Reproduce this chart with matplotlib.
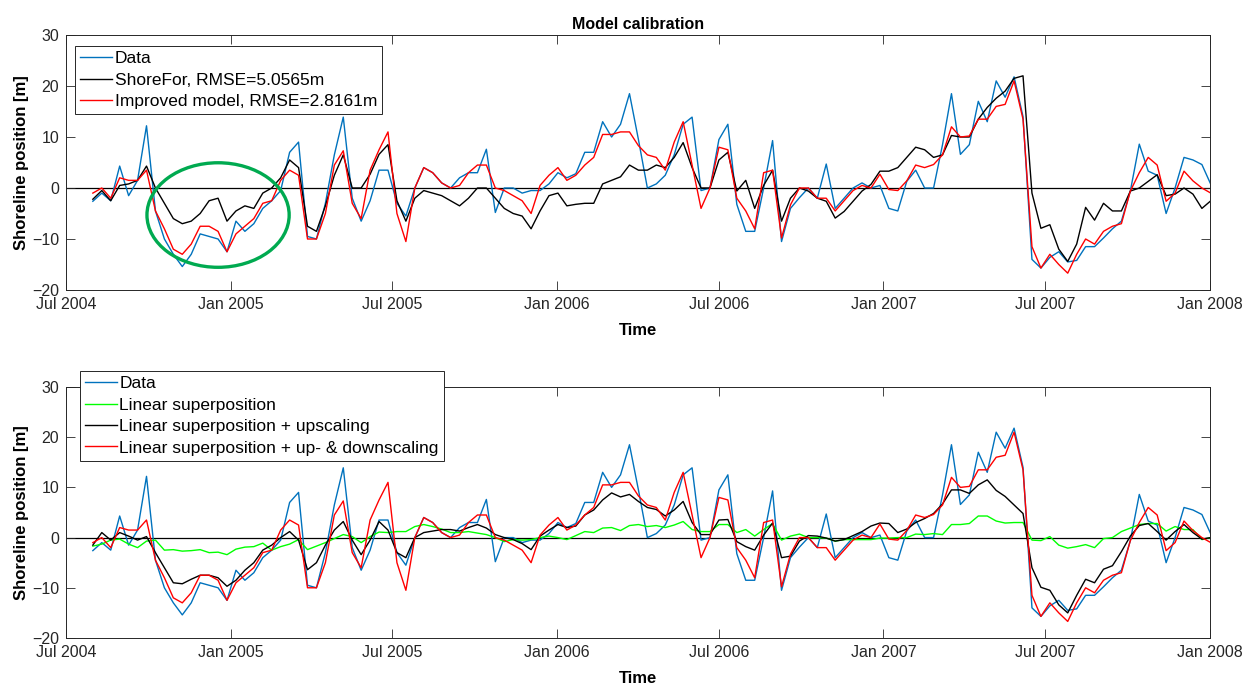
import numpy as np
import pandas as pd
import matplotlib
matplotlib.use("Agg")
import matplotlib.pyplot as plt
import matplotlib.dates as mdates
from matplotlib.patches import Ellipse

plt.rcParams['font.family'] = ['Liberation Sans', 'DejaVu Sans']

# shoreline positions [m], one sample every 10 days from 31 Jul 2004
series_start = '2004-07-31'
series_step = '10D'

data = [-2.6, -1, -2.5, 4.3, -1.5, 1.5, 12.2, -4.5, -10, -13, -15.4, -13, -9, -9.5, -10, -12.5,
        -6.5, -8.5, -7, -4, -2.5, -0.5, 7, 9, -9.5, -10, -3, 6.5, 13.9, -2, -6.5, -2.5,
        3.5, 3.5, -3, -5.5, 0, 4, 3, 1, 0, 2, 3, 3, 7.6, -4.8, 0, 0,
        -1, -0.5, -0.5, 0.8, 3, 2, 2.8, 7, 7, 13, 10, 12.5, 18.5, 9.5, 0, 0.8,
        2.5, 6.5, 12.5, 13.9, -0.5, 0, 9.5, 12.5, -3.2, -8.5, -8.5, 0, 9.3, -10.5, -4, -1.9,
        0, -2, 4.7, -4, -2, 0, 1, 0, 0.5, -4, -4.5, 1.3, 3.5, 0, 0, 8.5,
        18.5, 6.6, 8.5, 17, 13, 21, 17.8, 21.8, 14, -14, -15.7, -13.6, -12.5, -14.5, -14.2, -11.5,
        -11.5, -9.8, -8, -6.5, -0.6, 8.6, 3.3, 2.5, -5, 0, 6, 5.5, 4.6, 0.7]

shorefor = [-2.2, -0.5, -2.5, 0.5, 0.8, 1.5, 4.3, 0, -3, -6, -7, -6.5, -5, -2.5, -2, -6.5,
            -4.5, -3.5, -4, -1, 0, 2, 5.5, 4, -7.5, -8.5, -3.5, 2.5, 6.5, 0, 0, 2.7,
            6.6, 8.5, -2.5, -6.5, -2, -0.5, -1, -1.5, -2.5, -3.5, -2, 0, 0, -2, -4, -5,
            -5.5, -8, -4.5, -1.5, -1, -3.5, -3.2, -3, -3, 0.8, 1.5, 2.2, 4.5, 3.5, 3.5, 4.5,
            4, 6, 8.9, 4, 0, 0, 5.5, 7, -0.6, 1.5, -4, 0.5, 3.5, -6.5, -2, 0,
            -0.6, -2, -2.6, -5.9, -4.6, -2.6, -0.6, 0.7, 3.3, 3.3, 4, 6, 8, 7.5, 6, 6.5,
            10.3, 10, 10, 13.5, 15.8, 17.6, 19, 21.5, 22, -1, -7.9, -7.2, -12, -14.4, -11, -3.8,
            -6.3, -3, -4.5, -4.5, -0.6, 0, 1.3, 2.6, -1.5, -1.2, 0, -1.2, -4, -2.5]

improved = [-1, 0, -2, 2, 1.5, 1.5, 3.5, -4.5, -8, -12, -13, -11, -7.5, -7.5, -8.5, -12.5,
            -9, -7.5, -6, -3, -2.5, 1.5, 3.5, 2.5, -10, -10, -5, 4.5, 7.3, -3, -6, 3.5,
            7.5, 11, -5, -10.5, 0, 4, 3, 1, 0, 0.5, 3, 4.5, 4.5, 0, -0.5, -1.5,
            -2.5, -5, 0.5, 2.5, 4, 1.5, 2.5, 4.5, 6, 10.5, 10.5, 11, 11, 8.3, 6.5, 6,
            3.5, 9, 13, 4.5, -4, 0, 8, 7.5, -2, -4.5, -8, 3, 3.5, -9.8, -3.3, 0,
            0, -2, -2, -4.5, -2.5, -0.5, 0.5, 0, 2.7, -0.3, -0.5, 1.4, 4.5, 4, 4.6, 6.5,
            12, 10, 10.2, 13.5, 13.5, 16, 16.4, 21, 13.5, -11.5, -15.7, -13, -15, -16.7, -13, -10,
            -11, -8.5, -7.5, -7, -0.6, 3, 6, 4.5, -2.6, -1, 3.3, 1.4, 0, -1]

linear = [-1.7, -1.3, -0.5, -0.3, -1.3, -2, -0.7, -0.5, -2.5, -2.4, -2.7, -2.6, -2.4, -3, -2.9, -3.4,
          -2.3, -1.9, -1.8, -1.1, -2.5, -1.8, -1.3, -0.4, -2.4, -1.7, -1, -0.2, 0.6, 0.2, -1, 0.2,
          1.1, 1, 1.2, 1.2, 2.2, 2.6, 2.2, 1.7, 1, 1, 1.2, 0.9, 0.6, 0, -0.8, -0.4,
          -0.5, -0.4, 0, 0.3, 0, -0.4, 0.4, 1.2, 1, 1.9, 2, 1.4, 2.4, 2.6, 2.2, 2.4,
          2, 2.5, 3.2, 1.6, 1.2, 1.2, 2.6, 2.6, 1, 1.6, 0.3, 1.6, 2.8, -0.5, 0.3, 0.7,
          0, 0, -0.1, -0.7, -0.4, -0.4, -0.4, -0.4, -0.1, -0.1, 0, 0, 0.7, 0.6, 0.8, 0.6,
          2.6, 2.6, 2.8, 4.3, 4.3, 3.3, 2.9, 3, 3, -0.5, -0.6, 0.2, -1.5, -2.1, -1.8, -1.4,
          -2, -0.2, 0, 1.2, 1.9, 2.6, 2.8, 2.8, 1.3, 2.2, 1.6, 1.6, -0.4, 0]

upscaled = [-1.5, 1, -0.5, 1, 0.3, -0.5, 0.2, -3, -6, -9, -9.2, -8.3, -7.5, -7.5, -8, -9.7,
            -8.5, -6.5, -5, -2.5, -1.5, 0, 1.2, -0.5, -6.4, -5, -1.5, 1.5, 3.2, -0.5, -3.4, -0.5,
            3.2, 1.5, -3, -4, 0, 1, 1.3, 1.6, 1.6, 1.3, 2, 2.6, 1.9, 0.6, 0, -0.4,
            -1.2, -2.4, 0.3, 1.5, 2.6, 2, 2.3, 4.5, 5.5, 7.5, 8.9, 8.1, 8.6, 7.2, 6, 5.6,
            4.3, 5.5, 7.2, 3, 0.6, 0.6, 3.5, 3.6, -0.8, -1.8, -2.5, 0.5, 2.9, -4, -3.7, -0.7,
            0.4, 0.3, -0.1, -0.7, -0.4, 0.4, 1.2, 2.3, 2.9, 2.8, 1, 1.7, 3, 3.8, 4.8, 6.7,
            9.5, 9.5, 8.8, 10.5, 11.5, 9.4, 8.2, 6.5, 4.8, -6, -9.9, -10.5, -13.4, -15, -11.5, -8.3,
            -9, -6.3, -5.6, -2.8, 0.3, 2.4, 2.8, 1.2, -0.5, 1.2, 2.6, 1, -0.3, 0]

# up- & downscaled superposition gives the same curve as the improved model
up_down = improved

rmse_shorefor = 5.0565
rmse_improved = 2.8161

t = pd.date_range(series_start, periods=len(data), freq=series_step)

c_data = '#0072BD'
c_axis = '#262626'

fig = plt.figure(figsize=(12.55, 6.88), dpi=100)
ax1 = fig.add_axes([0.0526, 0.5785, 0.9115, 0.3706])
ax2 = fig.add_axes([0.0526, 0.0727, 0.9115, 0.3648])

ax1.plot(t, data, color=c_data, lw=1.0, label='Data')
ax1.plot(t, shorefor, color='k', lw=1.0, label=f'ShoreFor, RMSE={rmse_shorefor}m')
ax1.plot(t, improved, color='#FF0000', lw=1.0, label=f'Improved model, RMSE={rmse_improved}m')

ax2.plot(t, data, color=c_data, lw=1.0, label='Data')
ax2.plot(t, linear, color='#00FF00', lw=1.0, label='Linear superposition')
ax2.plot(t, upscaled, color='k', lw=1.0, label='Linear superposition + upscaling')
ax2.plot(t, up_down, color='#FF0000', lw=1.0, label='Linear superposition + up- & downscaling')

# circle around the winter 2004/05 erosion period
ring_mid = mdates.date2num(pd.Timestamp('2004-12-18'))
ax1.add_patch(Ellipse((ring_mid, -5.3), 159, 20.5, fill=False,
                      edgecolor='#00AA50', lw=2.4, zorder=5))

ticks = pd.date_range('2004-07-01', '2008-01-01', freq='6MS')
for ax in (ax1, ax2):
    ax.axhline(0, color='k', lw=0.9, zorder=1)
    ax.set_xlim(pd.Timestamp('2004-07-01'), pd.Timestamp('2008-01-01'))
    ax.set_ylim(-20, 30)
    ax.set_yticks([-20, -10, 0, 10, 20, 30])
    ax.set_xticks(ticks)
    ax.xaxis.set_major_formatter(mdates.DateFormatter('%b %Y'))
    ax.tick_params(direction='in', length=6.5, width=0.6, top=True, right=True,
                   labelsize=11.5, colors=c_axis, pad=5)
    for s in ax.spines.values():
        s.set_color(c_axis)
        s.set_linewidth(0.7)
    ax.set_xlabel('Time', fontsize=12, fontweight='bold', labelpad=8)
    ax.set_ylabel('Shoreline position [m]', fontsize=12, fontweight='bold', labelpad=2)

ax1.set_title('Model calibration', fontsize=11.5, fontweight='bold', pad=4)

leg_style = dict(fontsize=12.5, handlelength=1.85, handletextpad=0.12, labelspacing=0.36,
                 borderpad=0.3, borderaxespad=0, fancybox=False, framealpha=1,
                 edgecolor=c_axis)
l1 = ax1.legend(loc='upper left', bbox_to_anchor=(0.008, 0.957), **leg_style)
l2 = ax2.legend(loc='upper left', bbox_to_anchor=(0.012, 1.064), **leg_style)
for lg in (l1, l2):
    lg.get_frame().set_linewidth(0.7)
    lg.set_zorder(10)

fig.savefig('out.png', dpi=100)
